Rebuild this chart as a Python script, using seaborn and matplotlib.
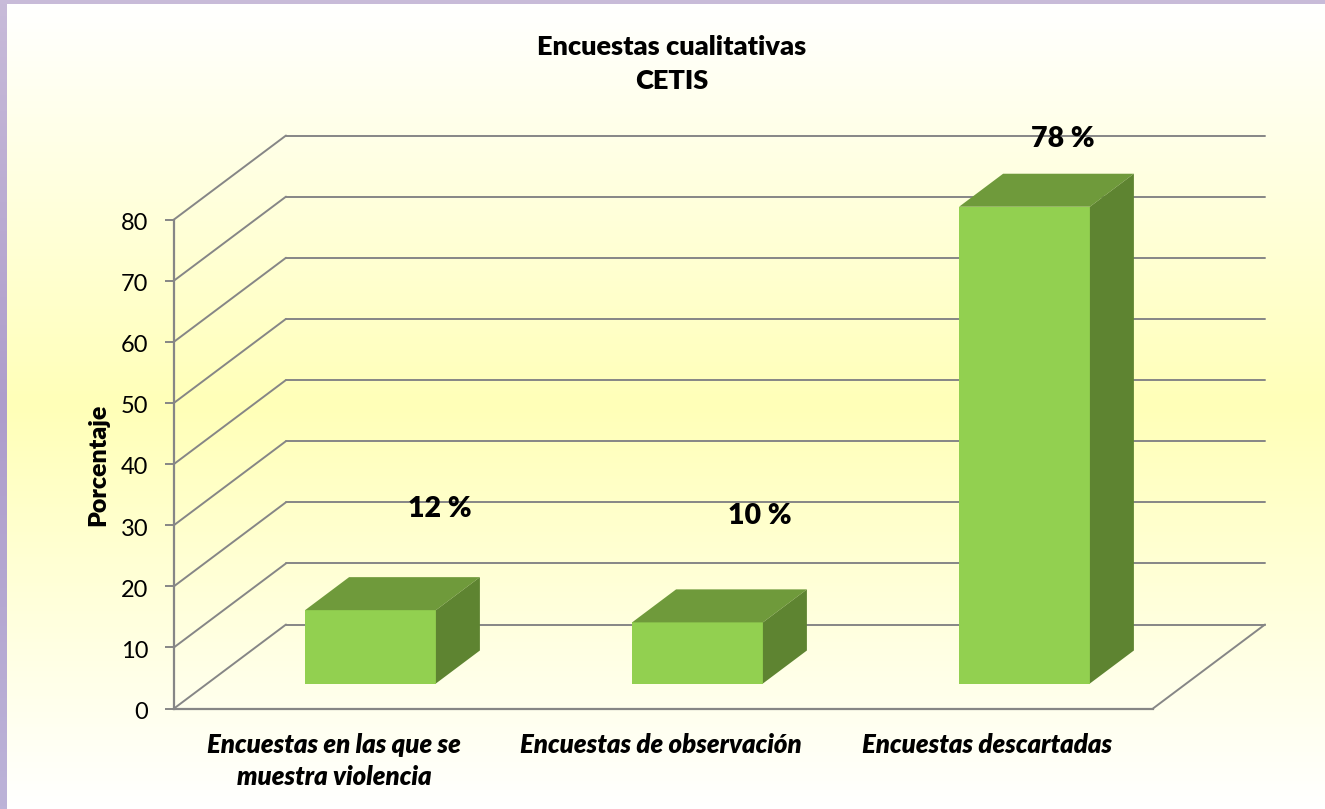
import numpy as np
import pandas as pd
import matplotlib
matplotlib.use('Agg')
import matplotlib.pyplot as plt
import seaborn as sns
from matplotlib.colors import LinearSegmentedColormap
from matplotlib.transforms import Affine2D

categories = ['Encuestas en las que se\nmuestra violencia', 'Encuestas de observación', 'Encuestas descartadas']
values = [12, 10, 78]
y_ticks = [0, 10, 20, 30, 40, 50, 60, 70, 80]
# where the free-floating value labels sit, on the bar axes
label_x = [0.213, 0.191, 0.118]
label_y = [28.6, 27.4, 89.0]

W, H = 1325, 809
GRID = '#868686'
FRONT, TOP, SIDE = '#92D050', '#6F9A3B', '#5E8431'

sns.set_style('white')
plt.rcParams['font.family'] = ['Lato', 'DejaVu Sans']
plt.rcParams['text.color'] = 'black'
plt.rcParams['axes.labelcolor'] = 'black'
plt.rcParams['xtick.color'] = 'black'
plt.rcParams['ytick.color'] = 'black'


def px_axes(fig, left, right, top, bottom):
    return fig.add_axes([left / W, 1 - bottom / H, (right - left) / W, (bottom - top) / H])


fig = plt.figure(figsize=(W / 100, H / 100), dpi=100)

# background: white to yellow to white, with the purple strips on the edge
bg = fig.add_axes([0, 0, 1, 1], zorder=0)
bg_cmap = LinearSegmentedColormap.from_list('bg', ['#FFFFFF', '#FFFFB8', '#FFFFFF'])
bg.imshow(np.linspace(0, 1, 256).reshape(-1, 1), cmap=bg_cmap, aspect='auto', extent=(0, W, H, 4))
strip_cmap = LinearSegmentedColormap.from_list('strip', ['#C8BBD9', '#AE9DCB', '#BCB3D8'])
bg.imshow(np.linspace(0, 1, 256).reshape(-1, 1), cmap=strip_cmap, aspect='auto', extent=(0, 7, H, 0))
bg.axhspan(0, 4, color='#C8BBD9', lw=0)
bg.set_xlim(0, W)
bg.set_ylim(H, 0)
bg.axis('off')

# front wall carries the axis, gridlines go back from it in depth
wall = px_axes(fig, 174, 1153, 219.5, 708.5)
wall.set_zorder(1)
wall.patch.set_alpha(0)
wall.set_xlim(-0.5, 2.5)
wall.set_ylim(0, 80)
wall_dx = 112 / 979 * 3
wall_dy = 84 / 489 * 80
for v in y_ticks:
    wall.plot([-0.5, -0.5 + wall_dx], [v, v + wall_dy], color=GRID, lw=1.4, clip_on=False)
    wall.plot([-0.5 + wall_dx, 2.5 + wall_dx], [v + wall_dy, v + wall_dy], color=GRID, lw=1.4, clip_on=False)
wall.plot([2.5, 2.5 + wall_dx], [0, wall_dy], color=GRID, lw=1.4, clip_on=False)

sns.despine(ax=wall)
for side in ['left', 'bottom']:
    wall.spines[side].set_color(GRID)
    wall.spines[side].set_linewidth(1.6)
wall.set_yticks(y_ticks)
wall.tick_params(axis='y', length=6.5, width=1.4, color=GRID, labelsize=17, pad=12, left=True)
wall.set_xticks(range(len(categories)))
wall.set_xticklabels(categories, fontsize=18.5, fontweight='heavy', fontstyle='italic', linespacing=1.42)
wall.tick_params(axis='x', length=0, pad=17.5)
wall.set_ylabel('Porcentaje', fontsize=18, fontweight='heavy')
wall.yaxis.set_label_coords((109 - 174) / 979, (708 - 464) / 489)

# nudge tick labels by a few pixels
for lab in wall.get_xticklabels():
    lab.set_transform(lab.get_transform() + Affine2D().translate(-3, 0))
for lab in wall.get_yticklabels():
    lab.set_transform(lab.get_transform() + Affine2D().translate(0, -2))

# bars stand on a plane set back from the front wall
ax = px_axes(fig, 207, 1188, 194.5, 683.5)
ax.set_zorder(2)
ax.patch.set_alpha(0)
df = pd.DataFrame({'categoria': categories, 'porcentaje': values})
sns.barplot(data=df, x='categoria', y='porcentaje', color=FRONT, saturation=1, width=0.4, ax=ax,
            zorder=3, linewidth=0, edgecolor=FRONT)
ax.set_xlim(-0.5, 2.5)
ax.set_ylim(0, 80)
ax.axis('off')

bar_dx = 44 / 981 * 3
bar_dy = 33 / 489 * 80
for bar, val, lx, ly in zip(ax.patches, values, label_x, label_y):
    x0, x1 = bar.get_x(), bar.get_x() + bar.get_width()
    h = bar.get_height()
    ax.fill([x0, x1, x1 + bar_dx, x0 + bar_dx], [h, h, h + bar_dy, h + bar_dy],
            color=TOP, lw=0, clip_on=False, zorder=3)
    ax.fill([x1, x1 + bar_dx, x1 + bar_dx, x1], [0, bar_dy, h + bar_dy, h],
            color=SIDE, lw=0, clip_on=False, zorder=3)
    ax.text(bar.get_x() + bar.get_width() / 2 + lx, ly, f'{val} %', ha='center', va='center',
            fontsize=20.5, fontweight='heavy', color='black', clip_on=False, zorder=4)

fig.text(672 / W, 1 - 64 / H, 'Encuestas cualitativas\nCETIS', ha='center', va='center',
         fontsize=19.5, fontweight='heavy', linespacing=1.47, color='black')

fig.savefig('out.png', dpi=100)
